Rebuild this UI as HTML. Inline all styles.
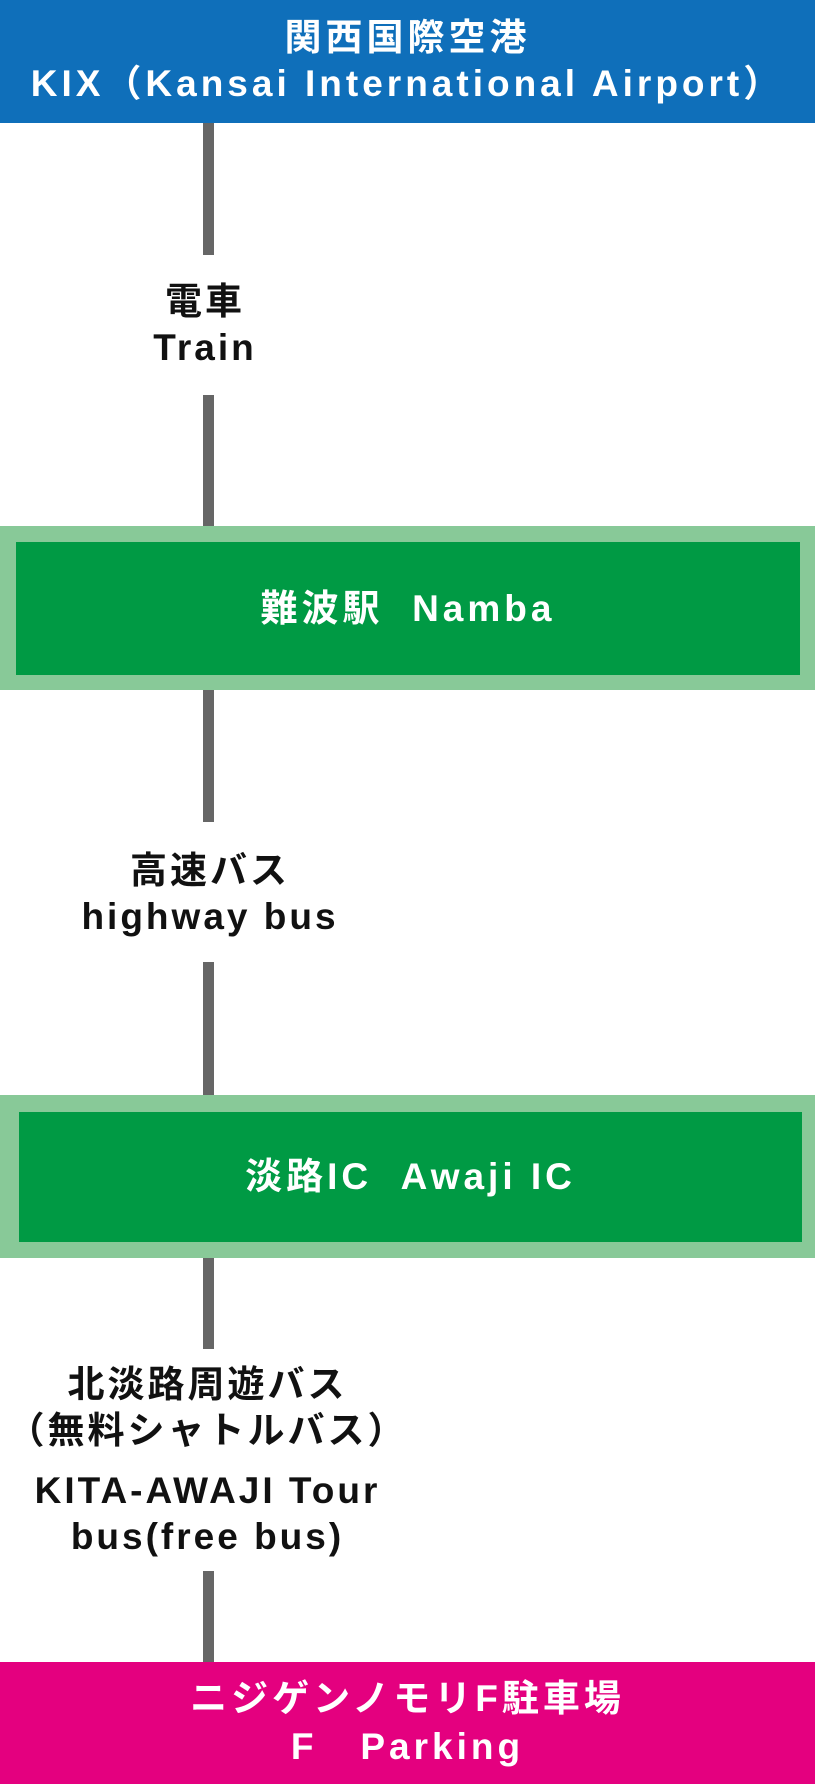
<!DOCTYPE html>
<html><head><meta charset="utf-8"><style>
html,body{margin:0;padding:0}
body{width:815px;height:1784px;position:relative;background:#fff;overflow:hidden;
font-family:"Liberation Sans","Noto Sans CJK JP",sans-serif;font-weight:bold}
.a{position:absolute}
.line{position:absolute;left:203px;width:11px;background:#666}
.t{position:absolute;left:0;width:415px;text-align:center;font-size:37px;color:#111;letter-spacing:3px;line-height:46px}
.w{color:#fff;text-align:center;letter-spacing:4px}
</style></head><body>
<div class="a w" style="left:0;top:0;width:815px;height:123px;background:#0f6fba;font-size:37px;line-height:46px;padding-top:15px;box-sizing:border-box">関西国際空港<br>KIX（Kansai International Airport）</div>

<div class="line" style="top:123px;height:132px"></div>
<div class="t" style="top:279px;left:0;width:410px">電車<br>Train</div>
<div class="line" style="top:395px;height:131px"></div>

<div class="a" style="left:0;top:526px;width:815px;height:164px;background:#88c998"></div>
<div class="a w" style="left:16px;top:542px;width:784px;height:133px;background:#009a44;font-size:37px;line-height:133px">難波駅&nbsp;&nbsp;Namba</div>

<div class="line" style="top:690px;height:132px"></div>
<div class="t" style="top:848px;left:0;width:420px">高速バス<br>highway bus</div>
<div class="line" style="top:962px;height:133px"></div>

<div class="a" style="left:0;top:1095px;width:815px;height:163px;background:#88c998"></div>
<div class="a w" style="left:19px;top:1112px;width:783px;height:130px;background:#009a44;font-size:37px;line-height:130px">淡路IC&nbsp;&nbsp;Awaji IC</div>

<div class="line" style="top:1258px;height:91px"></div>
<div class="t" style="top:1362px;left:0;width:415px">北淡路周遊バス<br>（無料シャトルバス）</div>
<div class="t" style="top:1468px;left:0;width:415px">KITA-AWAJI Tour<br>bus(free bus)</div>
<div class="line" style="top:1571px;height:91px"></div>

<div class="a w" style="left:0;top:1662px;width:815px;height:122px;background:#e4007f;font-size:37px;line-height:48px;padding-top:13px;box-sizing:border-box">ニジゲンノモリF駐車場<br>F&nbsp;&nbsp;&nbsp;Parking</div>
</body></html>
